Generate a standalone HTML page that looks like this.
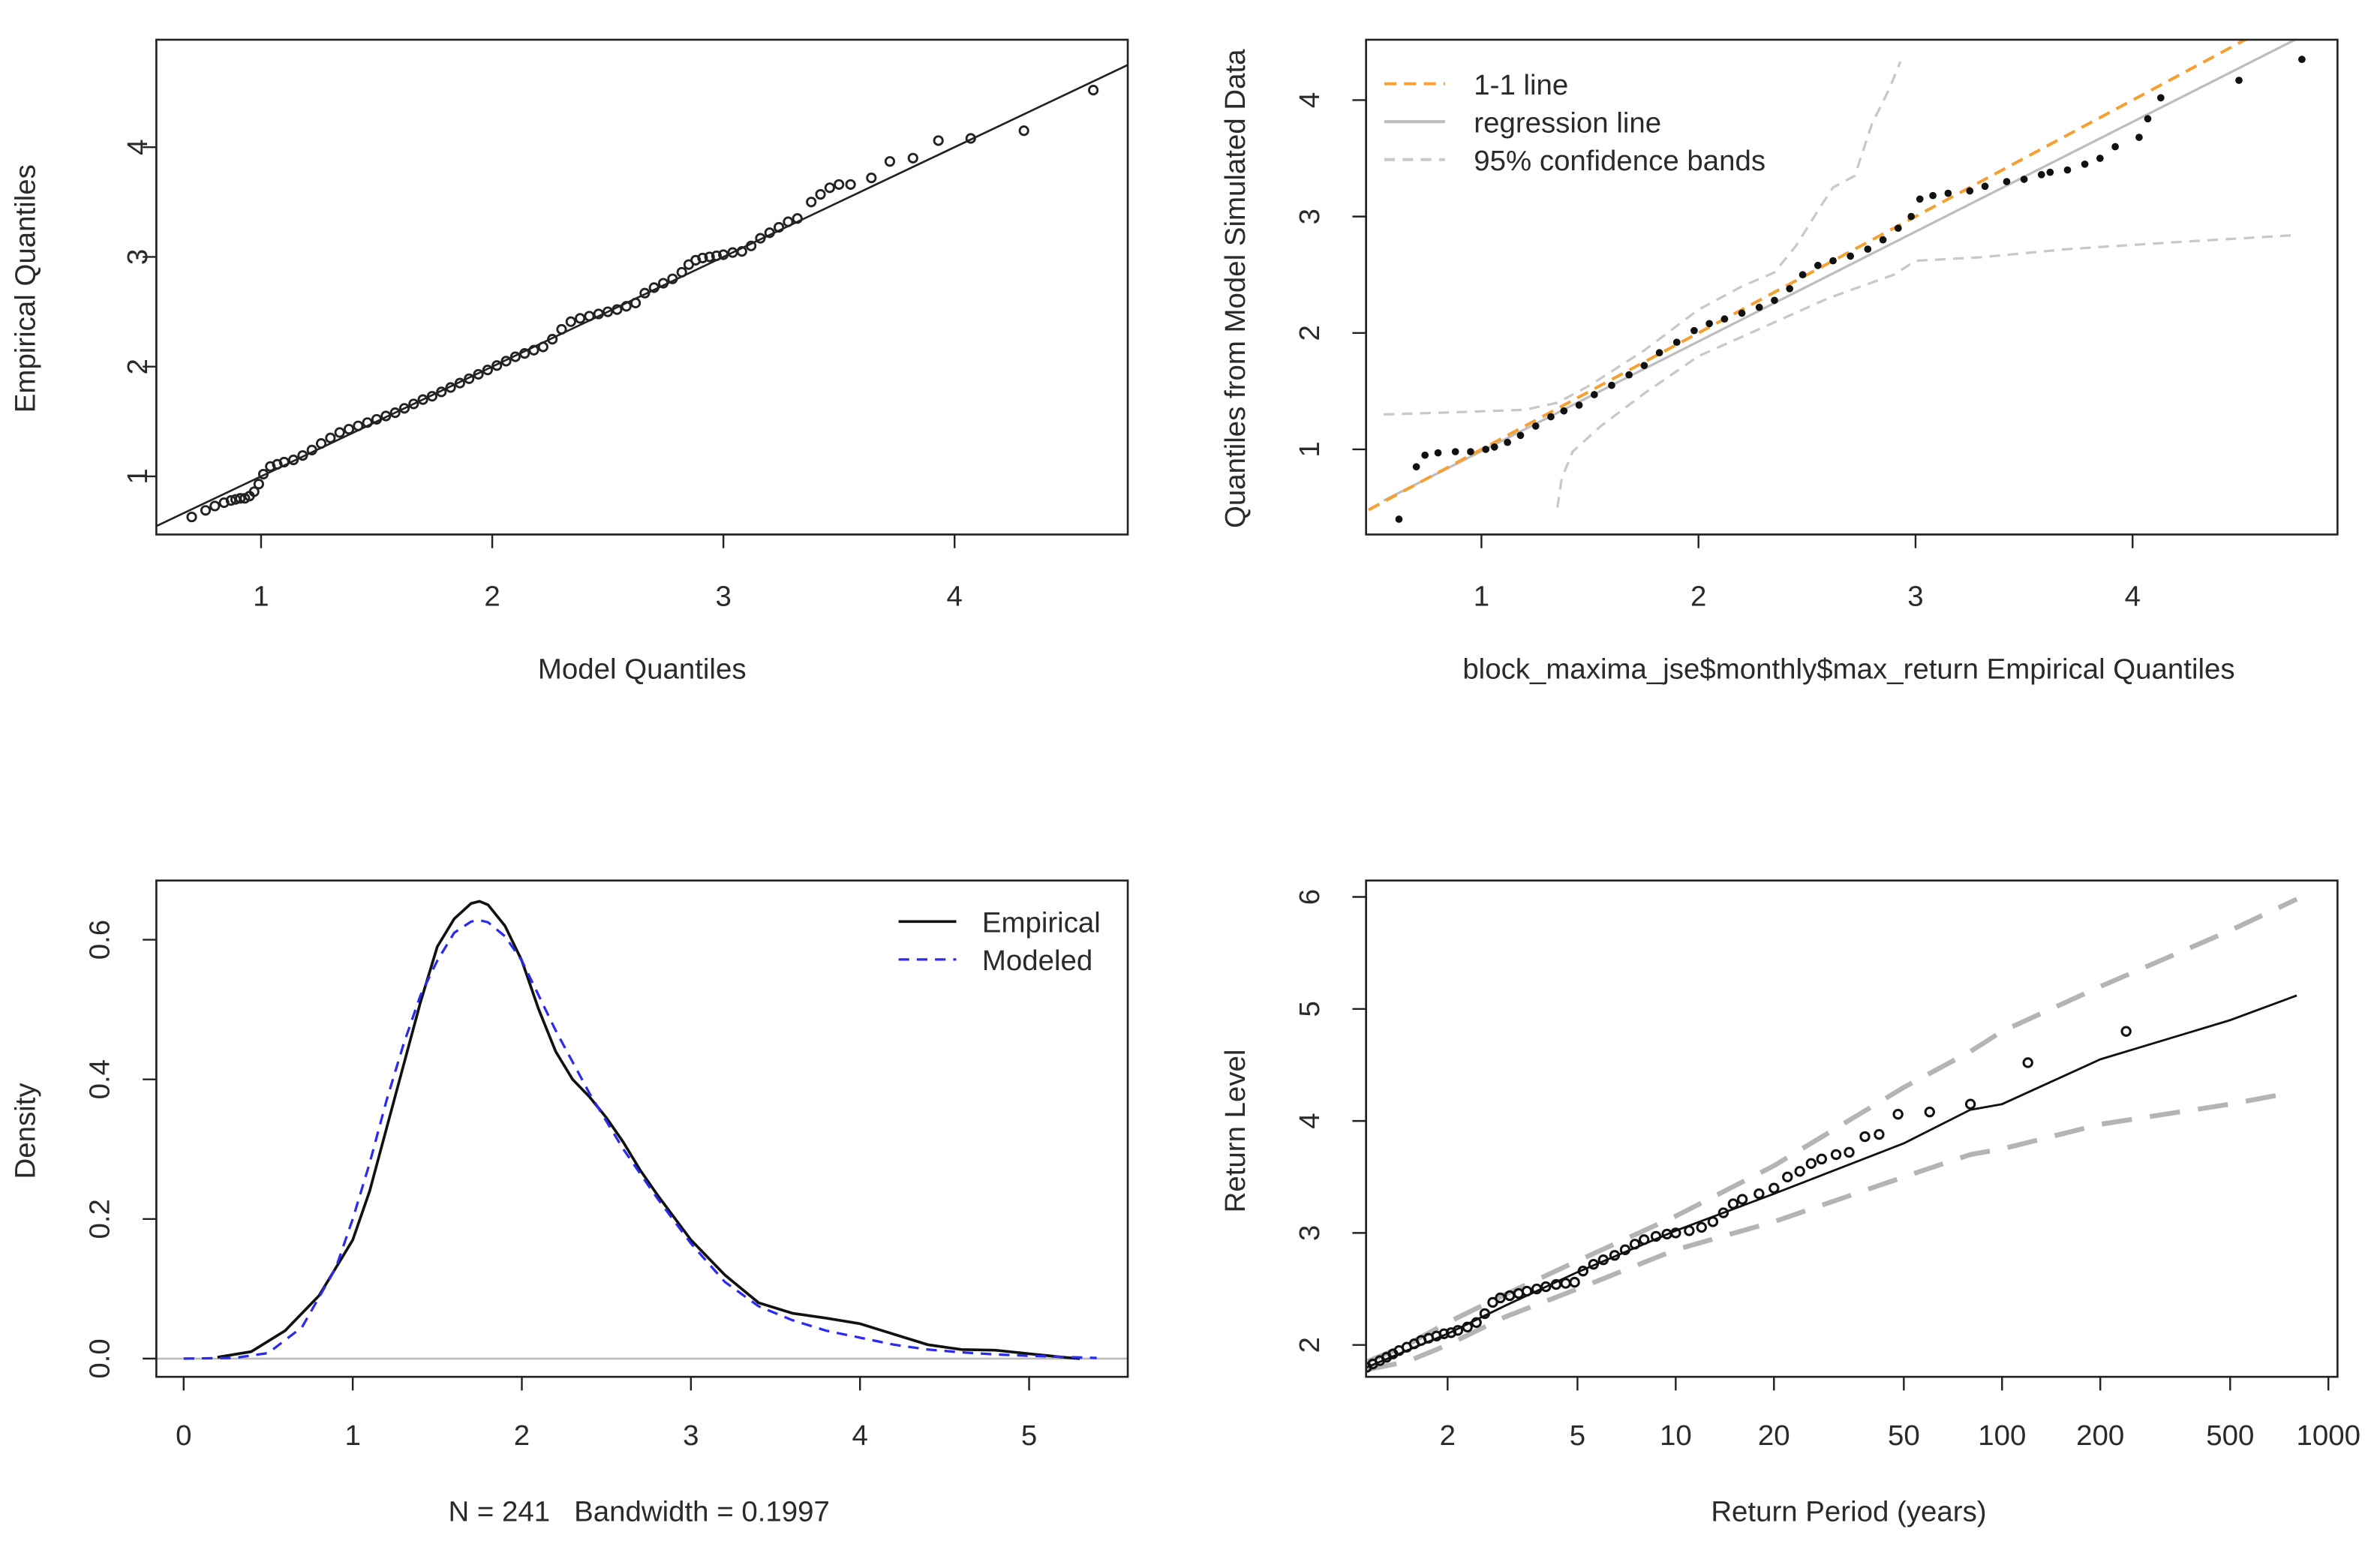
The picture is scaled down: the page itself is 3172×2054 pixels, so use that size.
<!DOCTYPE html>
<html><head><meta charset="utf-8"><style>
html,body{margin:0;padding:0;background:#fff}
svg{display:block}
text{font-family:"Liberation Sans",sans-serif;fill:#2a2a2a}
</style></head><body>
<svg id="s" width="3172" height="2054" viewBox="0 0 1568 1015" xmlns="http://www.w3.org/2000/svg">
<rect width="1568" height="1015" fill="#fff"/>
</svg>
<script>
// ---------- data ----------
const qqModel = [0.70,0.76,0.80,0.84,0.87,0.89,0.91,0.93,0.95,0.97,0.99,1.01,1.04,1.07,1.10,1.14,1.18,1.22,1.26,1.30,1.34,1.38,1.42,1.46,1.50,1.54,1.58,1.62,1.66,1.70,1.74,1.78,1.82,1.86,1.90,1.94,1.98,2.02,2.06,2.10,2.14,2.18,2.22,2.26,2.30,2.34,2.38,2.42,2.46,2.50,2.54,2.58,2.62,2.66,2.70,2.74,2.78,2.82,2.85,2.88,2.91,2.94,2.97,3.00,3.04,3.08,3.12,3.16,3.20,3.24,3.28,3.32,3.38,3.42,3.46,3.50,3.55,3.64,3.72,3.82,3.93,4.07,4.30,4.60];
const qqEmp = [0.63,0.69,0.73,0.76,0.78,0.79,0.80,0.80,0.82,0.86,0.93,1.02,1.09,1.11,1.13,1.15,1.19,1.24,1.30,1.35,1.40,1.43,1.46,1.49,1.52,1.55,1.58,1.62,1.66,1.70,1.73,1.77,1.81,1.85,1.89,1.93,1.97,2.01,2.05,2.09,2.12,2.15,2.18,2.25,2.34,2.41,2.44,2.46,2.48,2.50,2.52,2.55,2.58,2.67,2.72,2.76,2.80,2.86,2.93,2.97,2.99,3.00,3.01,3.02,3.04,3.05,3.10,3.17,3.22,3.27,3.32,3.35,3.50,3.57,3.63,3.66,3.66,3.72,3.87,3.90,4.06,4.08,4.15,4.52,4.83];
const qqLine = [0.55, 4.75];

const sEmp = [0.62,0.70,0.74,0.80,0.88,0.95,1.02,1.06,1.12,1.18,1.25,1.32,1.38,1.45,1.52,1.60,1.68,1.75,1.82,1.90,1.98,2.05,2.12,2.20,2.28,2.35,2.42,2.48,2.55,2.62,2.70,2.78,2.85,2.92,2.98,3.02,3.08,3.15,3.25,3.32,3.42,3.50,3.58,3.62,3.70,3.78,3.85,3.92,4.03,4.07,4.13,4.49,4.78];
const sSim = [0.40,0.85,0.95,0.97,0.98,0.98,1.00,1.02,1.06,1.12,1.20,1.28,1.33,1.38,1.47,1.55,1.64,1.72,1.83,1.92,2.02,2.08,2.12,2.17,2.22,2.28,2.38,2.50,2.58,2.62,2.66,2.72,2.80,2.90,3.00,3.15,3.18,3.20,3.22,3.26,3.30,3.32,3.36,3.38,3.40,3.45,3.50,3.60,3.68,3.84,4.02,4.17,4.35];
const regLine = [0.55, 0.56, 4.75, 4.52];
const bandUpX = [0.55,0.9,1.2,1.35,1.5,1.75,2.0,2.2,2.35,2.45,2.55,2.62,2.72,2.80,2.88,2.93];
const bandUpY = [1.30,1.32,1.34,1.40,1.55,1.85,2.20,2.40,2.52,2.75,3.05,3.25,3.35,3.80,4.10,4.33];
const bandLoX = [1.35,1.37,1.42,1.55,1.75,2.0,2.3,2.6,2.9,3.0,3.3,3.7,4.2,4.75];
const bandLoY = [0.50,0.75,0.98,1.20,1.48,1.80,2.05,2.30,2.50,2.62,2.65,2.72,2.78,2.84];

const dX = [0.2,0.4,0.6,0.8,1.0,1.1,1.2,1.3,1.4,1.5,1.6,1.7,1.75,1.8,1.9,2.0,2.1,2.2,2.3,2.4,2.5,2.6,2.7,2.8,3.0,3.2,3.4,3.6,3.8,4.0,4.2,4.4,4.6,4.8,5.0,5.2,5.3];
const dEmp = [0.002,0.010,0.040,0.090,0.170,0.240,0.330,0.420,0.510,0.590,0.630,0.652,0.655,0.650,0.620,0.570,0.500,0.440,0.400,0.375,0.345,0.310,0.270,0.235,0.170,0.120,0.080,0.065,0.058,0.050,0.035,0.020,0.013,0.012,0.007,0.002,0.0];
const mX = [0.0,0.3,0.5,0.7,0.9,1.0,1.1,1.2,1.3,1.4,1.5,1.6,1.7,1.75,1.8,1.9,2.0,2.1,2.2,2.4,2.6,2.8,3.0,3.2,3.4,3.6,3.8,4.0,4.2,4.4,4.6,4.8,5.0,5.4];
const dMod = [0.0,0.001,0.008,0.045,0.130,0.200,0.280,0.370,0.450,0.520,0.570,0.610,0.626,0.628,0.625,0.605,0.570,0.520,0.470,0.380,0.300,0.230,0.165,0.110,0.075,0.055,0.040,0.030,0.020,0.013,0.009,0.006,0.004,0.001];

const rlT = [1.13,1.5,2,3,5,10,20,50,80,100,200,500,800];
const rlFit = [1.80,1.95,2.10,2.35,2.65,3.02,3.35,3.80,4.10,4.15,4.55,4.90,5.12];
const rlUp = [1.85,2.00,2.20,2.45,2.75,3.15,3.60,4.30,4.62,4.80,5.20,5.70,5.98];
const rlLo = [1.78,1.85,2.00,2.25,2.50,2.85,3.10,3.50,3.70,3.75,3.97,4.15,4.23];
const rpT = [1.13,1.18,1.24,1.3,1.36,1.42,1.5,1.58,1.66,1.75,1.85,1.95,2.05,2.15,2.3,2.45,2.6,2.75,2.9,3.1,3.3,3.5,3.75,4.0,4.3,4.6,4.9,5.2,5.6,6.0,6.5,7.0,7.5,8.0,8.7,9.4,10,11,12,13,14,15,16,18,20,22,24,26,28,31,34,38,42,48,60,80,120,240];
const rpLev = [1.80,1.83,1.86,1.89,1.92,1.95,1.98,2.01,2.04,2.06,2.08,2.10,2.11,2.13,2.16,2.20,2.28,2.38,2.42,2.44,2.46,2.48,2.50,2.52,2.54,2.55,2.56,2.66,2.72,2.76,2.80,2.85,2.90,2.94,2.97,2.99,3.00,3.02,3.05,3.10,3.18,3.26,3.30,3.35,3.40,3.50,3.55,3.62,3.66,3.70,3.72,3.86,3.88,4.06,4.08,4.15,4.52,4.80];

// ---------- helpers ----------
const svg = document.getElementById('s');
const NS = 'http://www.w3.org/2000/svg';
function el(tag, attrs, parent){const e=document.createElementNS(NS,tag);for(const k in attrs)e.setAttribute(k,attrs[k]);(parent||svg).appendChild(e);return e;}
function txt(x,y,s,size,anchor,rot,parent){const t=el('text',{x:x,y:y,'font-size':size,'text-anchor':anchor||'middle'},parent);if(rot)t.setAttribute('transform','rotate(-90 '+x+' '+y+')');t.textContent=s;return t;}
function poly(xs,ys,sx,sy,attrs,parent){const pts=xs.map((v,i)=>sx(v).toFixed(2)+','+sy(ys[i]).toFixed(2)).join(' ');const p=el('polyline',Object.assign({points:pts,fill:'none'},attrs),parent);return p;}

function panel(name,box){
  const g=el('g',{});
  
  
  const clip=el('clipPath',{id:'c-'+name},g);
  el('rect',{x:box[0],y:box[1],width:box[2]-box[0],height:box[3]-box[1]},clip);
  const plot=el('g',{'clip-path':'url(#c-'+name+')'},g);
  
  
  return {g,plot,box};
}
function frame(P){
  const f=el('rect',{x:P.box[0],y:P.box[1],width:P.box[2]-P.box[0],height:P.box[3]-P.box[1],fill:'none',stroke:'#222','stroke-width':1.3},P.g);
  
  
}
function xAxis(P,vals,labels,sx,ly){
  const a=el('g',{},P.g);
  
  
  const b=P.box[3];
  el('line',{x1:sx(vals[0]),x2:sx(vals[vals.length-1]),y1:b,y2:b,stroke:'#222','stroke-width':1.2},a);
  vals.forEach((v,i)=>{el('line',{x1:sx(v),x2:sx(v),y1:b,y2:b+9,stroke:'#222','stroke-width':1.2},a);
    const t=txt(sx(v),ly,labels[i],19,'middle',false,a);
    
    });
}
function yAxis(P,vals,labels,sy,lx){
  const a=el('g',{},P.g);
  
  
  const l=P.box[0];
  el('line',{x1:l,x2:l,y1:sy(vals[0]),y2:sy(vals[vals.length-1]),stroke:'#222','stroke-width':1.2},a);
  vals.forEach((v,i)=>{el('line',{x1:l-9,x2:l,y1:sy(v),y2:sy(v),stroke:'#222','stroke-width':1.2},a);
    const t=txt(lx,sy(v),labels[i],19,'middle',true,a);
    
    });
}

// ---------- Panel 1: QQ plot ----------
{
  const P=panel('qq-plot',[103,26,743,352]);
  const sx=v=>19.7+152.3*v, sy=v=>386-72.3*v;
  poly(qqLine,qqLine,sx,sy,{stroke:'#222','stroke-width':1.3},P.plot);
  qqModel.forEach((m,i)=>{const c=el('circle',{cx:sx(m),cy:sy(qqEmp[i]),r:2.8,fill:'none',stroke:'#222','stroke-width':1.4},P.plot);
    
    });
  frame(P);
  xAxis(P,[1,2,3,4],['1','2','3','4'],sx,399);
  yAxis(P,[1,2,3,4],['1','2','3','4'],sy,97);
  const xl=txt(423,447,'Model Quantiles',19,'middle',false,P.g);
  
  
  const yl=txt(23,190,'Empirical Quantiles',19,'middle',true,P.g);
  
  
}
// ---------- Panel 2: simulated QQ ----------
{
  const P=panel('simulated-qq-plot',[900,26,1540,352]);
  const sx=v=>833+143*v, sy=v=>372.6-76.7*v;
  poly(bandUpX,bandUpY,sx,sy,{stroke:'#c8c8c8','stroke-width':1.6,'stroke-dasharray':'7,5'},P.plot);
  poly(bandLoX,bandLoY,sx,sy,{stroke:'#c8c8c8','stroke-width':1.6,'stroke-dasharray':'7,5'},P.plot);
  poly([regLine[0],regLine[2]],[regLine[1],regLine[3]],sx,sy,{stroke:'#bdbdbd','stroke-width':1.6},P.plot);
  poly([0.4,5],[0.4,5],sx,sy,{stroke:'#f5a033','stroke-width':2,'stroke-dasharray':'8,5'},P.plot);
  sEmp.forEach((m,i)=>{const c=el('circle',{cx:sx(m),cy:sy(sSim[i]),r:2.4,fill:'#111'},P.plot);
    
    });
  frame(P);
  xAxis(P,[1,2,3,4],['1','2','3','4'],sx,399);
  yAxis(P,[1,2,3,4],['1','2','3','4'],sy,869);
  const lg=el('g',{},P.g);
  
  
  const items=[['1-1 line','#f5a033','8,5'],['regression line','#bdbdbd',''],['95% confidence bands','#c8c8c8','7,5']];
  items.forEach((it,i)=>{const y=55+25*i;
    const ln=el('line',{x1:912,x2:952,y1:y,y2:y,stroke:it[1],'stroke-width':2},lg);
    if(it[2])ln.setAttribute('stroke-dasharray',it[2]);
    const t=txt(971,y+7,it[0],19,'start',false,lg);
    
    });
  const xl=txt(1218,447,'block_maxima_jse$monthly$max_return Empirical Quantiles',19,'middle',false,P.g);
  
  
  const yl=txt(820,190,'Quantiles from Model Simulated Data',19,'middle',true,P.g);
  
  
}
// ---------- Panel 3: density ----------
{
  const P=panel('density-plot',[103,580,743,907]);
  const sx=v=>121+111.4*v, sy=v=>895-460*v;
  el('line',{x1:103,x2:743,y1:sy(0),y2:sy(0),stroke:'#bbb','stroke-width':1.3},P.plot);
  const e=poly(dX,dEmp,sx,sy,{stroke:'#111','stroke-width':1.8},P.plot);
  
  
  const m=poly(mX,dMod,sx,sy,{stroke:'#2b2bf0','stroke-width':1.6,'stroke-dasharray':'7,5'},P.plot);
  
  
  frame(P);
  xAxis(P,[0,1,2,3,4,5],['0','1','2','3','4','5'],sx,952);
  yAxis(P,[0,0.2,0.4,0.6],['0.0','0.2','0.4','0.6'],sy,72);
  const lg=el('g',{},P.g);
  
  
  el('line',{x1:592,x2:630,y1:607,y2:607,stroke:'#111','stroke-width':1.8},lg);
  el('line',{x1:592,x2:630,y1:632,y2:632,stroke:'#2b2bf0','stroke-width':1.6,'stroke-dasharray':'7,5'},lg);
  const t1=txt(647,614,'Empirical',19,'start',false,lg);
  
  
  const t2=txt(647,639,'Modeled',19,'start',false,lg);
  
  
  const xl=txt(421,1002,'N = 241   Bandwidth = 0.1997',19,'middle',false,P.g);
  xl.style.whiteSpace='pre';
  
  
  const yl=txt(23,745,'Density',19,'middle',true,P.g);
  
  
}
// ---------- Panel 4: return level ----------
{
  const P=panel('return-level-plot',[900,580,1540,907]);
  const sx=v=>1104+215*(Math.log10(v)-1), sy=v=>1033.6-73.8*v;
  poly(rlT,rlUp,sx,sy,{stroke:'#b4b4b4','stroke-width':3.2,'stroke-dasharray':'20,12'},P.plot);
  poly(rlT.slice(0,-1).concat([700]),rlLo,sx,sy,{stroke:'#b4b4b4','stroke-width':3.2,'stroke-dasharray':'20,12'},P.plot);
  const f=poly(rlT,rlFit,sx,sy,{stroke:'#111','stroke-width':1.4},P.plot);
  
  
  rpT.forEach((t,i)=>{const c=el('circle',{cx:sx(t),cy:sy(rpLev[i]),r:2.8,fill:'none',stroke:'#111','stroke-width':1.5},P.plot);
    
    });
  frame(P);
  const tv=[2,5,10,20,50,100,200,500,1000];
  xAxis(P,tv,tv.map(String),sx,952);
  yAxis(P,[2,3,4,5,6],['2','3','4','5','6'],sy,869);
  const xl=txt(1218,1002,'Return Period (years)',19,'middle',false,P.g);
  
  
  const yl=txt(820,745,'Return Level',19,'middle',true,P.g);
  
  
}
</script>
</body></html>
